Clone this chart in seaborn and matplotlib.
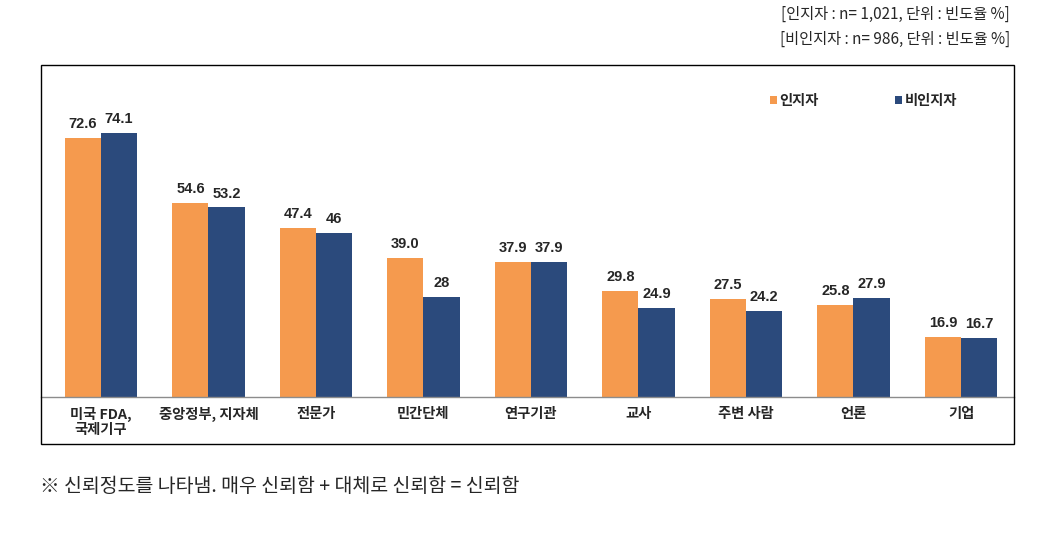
import pandas as pd
import matplotlib.pyplot as plt
import seaborn as sns
from matplotlib.patches import Rectangle

# values
categories = ['미국 FDA,\n국제기구', '중앙정부, 지자체', '전문가', '민간단체', '연구기관',
              '교사', '주변 사람', '언론', '기업']
aware = [72.6, 54.6, 47.4, 39.0, 37.9, 29.8, 27.5, 25.8, 16.9]
unaware = [74.1, 53.2, 46, 28, 37.9, 24.9, 24.2, 27.9, 16.7]
aware_labels = ['72.6', '54.6', '47.4', '39.0', '37.9', '29.8', '27.5', '25.8', '16.9']
unaware_labels = ['74.1', '53.2', '46', '28', '37.9', '24.9', '24.2', '27.9', '16.7']
groups = ['인지자', '비인지자']
colors = ['#F59A4E', '#2B4A7C']

df = pd.DataFrame({
    'cat': categories * 2,
    'group': [groups[0]] * len(categories) + [groups[1]] * len(categories),
    'value': aware + unaware,
})

sns.set_theme(style='white')
plt.rcParams['font.family'] = ['Noto Sans CJK KR', 'DejaVu Sans']

W, H = 1062, 535
fig = plt.figure(figsize=(W / 100, H / 100), dpi=100)

# axes placed in pixel terms: frame 41..1014 wide, baseline at y=397, top at y=65
ax = fig.add_axes([41 / W, 1 - 397 / H, (1014 - 41) / W, (397 - 65) / H])
sns.barplot(data=df, x='cat', y='value', hue='group', palette=colors,
            width=0.67, gap=0, saturation=1, linewidth=0, ax=ax, legend=True)

ax.set_xlim(-0.558, 8.493)
ax.set_ylim(0, 93.2)
ax.set_xlabel('')
ax.set_ylabel('')
ax.set_yticks([])
for s in ['top', 'left', 'right']:
    ax.spines[s].set_visible(False)
ax.spines['bottom'].set_color('#8c8c8c')
ax.spines['bottom'].set_linewidth(1)
ax.tick_params(axis='x', length=0, pad=7)
for t in ax.get_xticklabels():
    t.set_fontweight('bold')
    t.set_fontsize(10.3)
    t.set_linespacing(1.15)

# value labels
for cont, labs in zip(ax.containers, [aware_labels, unaware_labels]):
    ax.bar_label(cont, labels=labs, padding=5, fontsize=10.5, fontweight='bold',
                 family=['Liberation Sans', 'DejaVu Sans'])

leg = ax.legend(loc='upper right', bbox_to_anchor=(0.955, 0.95), ncol=2, frameon=False,
                handlelength=0.5, handleheight=0.5, handletextpad=0.2, columnspacing=5.3,
                prop={'weight': 'bold', 'size': 10.3})

# outer frame around chart area
fig.patches.append(Rectangle((41 / W, 1 - 444 / H), (1014 - 41) / W, (444 - 65) / H,
                             transform=fig.transFigure, fill=False, edgecolor='black',
                             linewidth=1))

fig.text(1010 / W, 1 - 14 / H, '[인지자 : n= 1,021, 단위 : 빈도율 %]', ha='right', va='center',
         fontsize=11)
fig.text(1010 / W, 1 - 39 / H, '[비인지자 : n= 986, 단위 : 빈도율 %]', ha='right', va='center',
         fontsize=11)
fig.text(40 / W, 1 - 486 / H, '※ 신뢰정도를 나타냄. 매우 신뢰함 + 대체로 신뢰함 = 신뢰함',
         ha='left', va='center', fontsize=14)

plt.savefig('out.png', dpi=100)
